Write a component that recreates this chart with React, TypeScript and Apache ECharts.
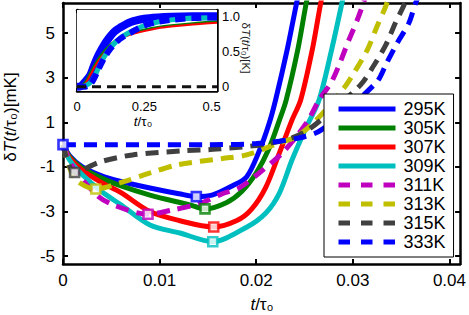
import React, { useEffect, useRef } from "react";
import * as echarts from "echarts";

// ---------- main plot data (t/tau0, deltaT in mK) ----------
const names = ["295K", "305K", "307K", "309K", "311K", "313K", "315K", "333K"];
const colors = ["#0000ff", "#008000", "#ff0000", "#00bfbf", "#bf00bf", "#bfbf00", "#404040", "#0000ff"];
const dashed = [false, false, false, false, true, true, true, true];

const t295 = [0, 0.0007, 0.002, 0.004, 0.006, 0.009, 0.012, 0.0138, 0.0155, 0.0175, 0.019, 0.0203, 0.0213, 0.022, 0.0232, 0.0242, 0.0248];
const d295 = [0, -0.5, -1.0, -1.4, -1.65, -1.94, -2.2, -2.33, -2.25, -1.85, -1.45, -0.3, 0.9, 2.0, 4.25, 6.4, 7.6];
const t305 = [0, 0.0007, 0.002, 0.004, 0.006, 0.009, 0.0131, 0.0147, 0.0169, 0.0185, 0.02, 0.0213, 0.0224, 0.0231, 0.0243, 0.0252, 0.0258];
const d305 = [0, -0.55, -1.05, -1.5, -1.85, -2.26, -2.7, -2.88, -2.6, -2.1, -1.27, -0.2, 1.1, 2.0, 4.25, 6.4, 7.6];
const t307 = [0, 0.0007, 0.002, 0.004, 0.006, 0.009, 0.012, 0.0156, 0.018, 0.0195, 0.021, 0.0224, 0.0237, 0.0246, 0.0258, 0.0267, 0.0273];
const d307 = [0, -0.6, -1.15, -1.7, -2.15, -3.0, -3.4, -3.69, -3.4, -2.9, -1.9, -0.37, 1.1, 2.0, 4.25, 6.4, 7.6];
const t309 = [0, 0.0007, 0.002, 0.004, 0.006, 0.009, 0.0121, 0.0155, 0.019, 0.021, 0.0224, 0.0237, 0.0252, 0.0265, 0.0278, 0.0289, 0.0295];
const d309 = [0, -0.7, -1.35, -2.1, -2.7, -3.6, -3.96, -4.35, -3.7, -3.06, -2.17, -0.69, 0.8, 2.0, 4.25, 6.4, 7.6];
const t311 = [0, 0.001, 0.0035, 0.0052, 0.0088, 0.0113, 0.0141, 0.0165, 0.0182, 0.0203, 0.0227, 0.0252, 0.0265, 0.0279, 0.0296, 0.0306, 0.0316];
const d311 = [0, -1.0, -2.26, -2.7, -3.12, -2.93, -2.65, -2.2, -1.95, -1.27, -0.37, 0.97, 2.0, 2.9, 4.7, 5.75, 7.0];
const t313 = [0, 0.0012, 0.0034, 0.0062, 0.009, 0.0119, 0.0165, 0.019, 0.0224, 0.0241, 0.026, 0.0291, 0.0303, 0.0315, 0.0325, 0.0334, 0.034];
const d313 = [0, -1.5, -1.99, -1.67, -1.27, -0.9, -0.62, -0.46, 0.08, 0.35, 1.0, 2.55, 3.35, 4.25, 5.3, 6.2, 7.0];
const t315 = [0, 0.0012, 0.0038, 0.0072, 0.0124, 0.0159, 0.0206, 0.0237, 0.0255, 0.028, 0.0308, 0.0322, 0.0334, 0.0344, 0.0353, 0.036];
const d315 = [0, -1.25, -0.78, -0.46, -0.28, -0.2, 0.0, 0.3, 0.7, 1.6, 2.68, 3.57, 4.46, 5.45, 6.26, 7.0];
const t333 = [0, 0.005, 0.01, 0.015, 0.02, 0.0244, 0.0267, 0.0324, 0.0335, 0.0346, 0.0358, 0.0365, 0.0372];
const d333 = [0, 0, 0, 0, 0.05, 0.3, 0.65, 2.77, 3.66, 4.56, 5.45, 6.35, 7.0];

const mainT = [t295, t305, t307, t309, t311, t313, t315, t333];
const mainD = [d295, d305, d307, d309, d311, d313, d315, d333];

const markerT = [0.0138, 0.0147, 0.0156, 0.0155, 0.0088, 0.0034, 0.0012, 0];
const markerD = [-2.33, -2.88, -3.69, -4.35, -3.12, -1.99, -1.25, 0];

const xTicks = [0, 0.01, 0.02, 0.03, 0.04];
const yTicks = [-5, -3, -1, 1, 3, 5];

// ---------- inset data (t/tau0, deltaT in K) ----------
const insetT = [0, 0.015, 0.03, 0.05, 0.064, 0.08, 0.1, 0.12, 0.138, 0.16, 0.2, 0.25, 0.3, 0.35, 0.43, 0.52];
const inBlue = [0, 0.01, 0.07, 0.17, 0.31, 0.45, 0.59, 0.7, 0.78, 0.84, 0.92, 0.965, 0.985, 0.995, 1.0, 1.0];
const inGreen = [0, 0.01, 0.06, 0.2, 0.3, 0.4, 0.5, 0.58, 0.64, 0.7, 0.76, 0.81, 0.845, 0.87, 0.9, 0.925];
const inRed = [0, 0.005, 0.04, 0.17, 0.27, 0.37, 0.47, 0.55, 0.62, 0.68, 0.74, 0.79, 0.83, 0.855, 0.885, 0.91];
const inCyan = [0, 0, 0.01, 0.06, 0.14, 0.27, 0.42, 0.53, 0.61, 0.69, 0.78, 0.87, 0.92, 0.95, 0.975, 0.985];
const inBlueDash = [0, 0, 0, 0.04, 0.12, 0.25, 0.4, 0.52, 0.6, 0.68, 0.77, 0.87, 0.92, 0.95, 0.975, 0.985];
const inBlack = [0, 0, 0, 0, 0, 0, 0, 0, 0, 0, 0, 0, 0, 0, 0, 0];
const insetXTicks = [0, 0.25, 0.5];
const insetYTicks = [0, 0.5, 1];

const FONT = "Liberation Sans, Arial, Helvetica, sans-serif";

const zip = (xs: number[], ys: number[]) => xs.map((x, i) => [x, ys[i]]);

export default function App() {
  const ref = useRef<HTMLDivElement>(null);
  useEffect(() => {
    if (!ref.current) return;
    const chart = echarts.init(ref.current, null, { renderer: "svg" });
    const axisLine = { show: true, onZero: false, lineStyle: { color: "#000", width: 2.5 } };
    const tick = (vals: number[], len = 5) => ({
      show: true,
      inside: true,
      length: len,
      customValues: vals,
      lineStyle: { color: "#000", width: 2 },
    });
    const fmtMain = (v: number) => {
      const r = Math.round(v * 100) / 100;
      return r === 0 ? "0" : String(r);
    };

    const mainSeries: any[] = names.map((n, i) => ({
      name: n,
      type: "line",
      xAxisIndex: 0,
      yAxisIndex: 0,
      data: zip(mainT[i], mainD[i]),
      smooth: 0.3,
      symbol: "none",
      clip: true,
      z: 2,
      lineStyle: {
        color: colors[i],
        width: 5,
        type: dashed[i] ? [13, 8] : "solid",
        cap: "butt",
      },
      itemStyle: { color: colors[i] },
    }));

    const markerSeries = {
      name: "markers",
      type: "scatter",
      xAxisIndex: 0,
      yAxisIndex: 0,
      symbol: "rect",
      symbolSize: 9,
      z: 5,
      data: markerT.map((t, i) => ({
        value: [t, markerD[i]],
        itemStyle: { color: "#fff", borderColor: colors[i], borderWidth: 2.6 },
      })),
    };

    const inset = (name: string, ys: number[], color: string, width: number, type: any) => ({
      name,
      type: "line",
      xAxisIndex: 2,
      yAxisIndex: 2,
      data: zip(insetT, ys),
      smooth: 0.3,
      symbol: "none",
      z: 3,
      lineStyle: { color, width, type, cap: "butt" },
    });

    const option: any = {
      animation: false,
      textStyle: { fontFamily: FONT },
      grid: [
        { left: 63, top: 3, width: 399, height: 261, containLabel: false },
        { left: 77, top: 10, width: 140, height: 81, containLabel: false, show: true, backgroundColor: "#fff", borderWidth: 0, z: 3 },
      ],
      xAxis: [
        {
          type: "value", gridIndex: 0, min: 0, max: 0.0411, position: "bottom",
          axisLine, axisTick: tick(xTicks), splitLine: { show: false },
          axisLabel: { customValues: xTicks, formatter: fmtMain, fontSize: 17, color: "#000", margin: 8, fontFamily: FONT },
        },
        {
          type: "value", gridIndex: 0, min: 0, max: 0.0411, position: "top",
          axisLine, axisTick: tick(xTicks), splitLine: { show: false }, axisLabel: { show: false },
        },
        {
          type: "value", gridIndex: 1, min: 0, max: 0.52, position: "bottom",
          axisLine, axisTick: tick(insetXTicks, 3), splitLine: { show: false },
          axisLabel: {
            customValues: insetXTicks, fontSize: 13, color: "#000", margin: 9, fontFamily: FONT,
            formatter: (v: number) => (v === 0 ? "0" : String(v)),
          },
        },
        {
          type: "value", gridIndex: 1, min: 0, max: 0.52, position: "top",
          axisLine, axisTick: tick(insetXTicks, 3), splitLine: { show: false }, axisLabel: { show: false },
        },
      ],
      yAxis: [
        {
          type: "value", gridIndex: 0, min: -5.35, max: 6.35, position: "left",
          axisLine, axisTick: tick(yTicks), splitLine: { show: false },
          axisLabel: { customValues: yTicks, fontSize: 17, color: "#000", margin: 8, fontFamily: FONT },
        },
        {
          type: "value", gridIndex: 0, min: -5.35, max: 6.35, position: "right",
          axisLine, axisTick: tick(yTicks), splitLine: { show: false }, axisLabel: { show: false },
        },
        {
          type: "value", gridIndex: 1, min: -0.06, max: 1.09, position: "left",
          axisLine, axisTick: tick(insetYTicks, 3), splitLine: { show: false }, axisLabel: { show: false },
        },
        {
          type: "value", gridIndex: 1, min: -0.06, max: 1.09, position: "right",
          axisLine, axisTick: tick(insetYTicks, 3), splitLine: { show: false },
          axisLabel: {
            customValues: insetYTicks, fontSize: 13, color: "#000", margin: 5, fontFamily: FONT,
            formatter: (v: number) => (v === 0 ? "0" : v === 1 ? "1.0" : String(v)),
          },
        },
      ],
      legend: {
        orient: "vertical",
        left: 324,
        top: 94,
        backgroundColor: "#fff",
        borderColor: "#000",
        borderWidth: 1,
        borderRadius: 0,
        padding: [6, 8, 6, 12],
        itemGap: 1,
        itemWidth: 57,
        itemHeight: 12,
        z: 10,
        itemStyle: { opacity: 0 },
        textStyle: { fontSize: 18, color: "#000", lineHeight: 18, fontFamily: FONT, padding: [0, 0, 0, 3] },
        data: names.map((n, i) => ({
          name: n,
          itemStyle: { opacity: 0 },
          lineStyle: dashed[i] ? { type: [11.5, 11], width: 5 } : { width: 5 },
        })),
      },
      graphic: [
        {
          type: "text", x: 262, y: 304, z: 10,
          style: {
            text: "{i|t}{n|/τ₀}", align: "center", verticalAlign: "middle",
            rich: {
              i: { fontStyle: "italic", fontSize: 17, fontFamily: FONT, fill: "#000" },
              n: { fontSize: 17, fontFamily: FONT, fill: "#000" },
            },
          },
        },
        {
          type: "text", x: 10, y: 117, rotation: Math.PI / 2, z: 10,
          style: {
            text: "{n|δ}{i|T}{n|(}{i|t}{n|/τ₀)[mK]}", align: "center", verticalAlign: "middle",
            rich: {
              i: { fontStyle: "italic", fontSize: 17, fontFamily: FONT, fill: "#000" },
              n: { fontSize: 17, fontFamily: FONT, fill: "#000" },
            },
          },
        },
        {
          type: "text", x: 143, y: 121, z: 10,
          style: {
            text: "{i|t}{n|/τ₀}", align: "center", verticalAlign: "middle",
            rich: {
              i: { fontStyle: "italic", fontSize: 13.5, fontFamily: FONT, fill: "#000" },
              n: { fontSize: 13.5, fontFamily: FONT, fill: "#000" },
            },
          },
        },
        {
          type: "text", x: 246, y: 48, rotation: -Math.PI / 2, z: 10,
          style: {
            text: "{n|δ}{i|T}{n|(}{i|t}{n|/τ₀)[K]}", align: "center", verticalAlign: "middle",
            rich: {
              i: { fontStyle: "italic", fontSize: 11.5, fontFamily: FONT, fill: "#222" },
              n: { fontSize: 11.5, fontFamily: FONT, fill: "#222" },
            },
          },
        },
      ],
      series: [
        ...mainSeries,
        markerSeries,
        inset("i295", inBlue, "#0000ff", 8, "solid"),
        inset("i305", inGreen, "#008000", 2.5, "solid"),
        inset("i307", inRed, "#ff0000", 2, "solid"),
        inset("i309", inCyan, "#00bfbf", 5, "solid"),
        inset("i333", inBlueDash, "#0000ff", 6, [10, 6]),
        inset("i315", inBlack, "#111111", 3, [9, 6]),
      ],
    };
    chart.setOption(option);
    return () => chart.dispose();
  }, []);
  return (
    <div
      ref={ref}
      style={{ position: "absolute", left: 0, top: 0, width: 469, height: 315, background: "#fff" }}
    />
  );
}
